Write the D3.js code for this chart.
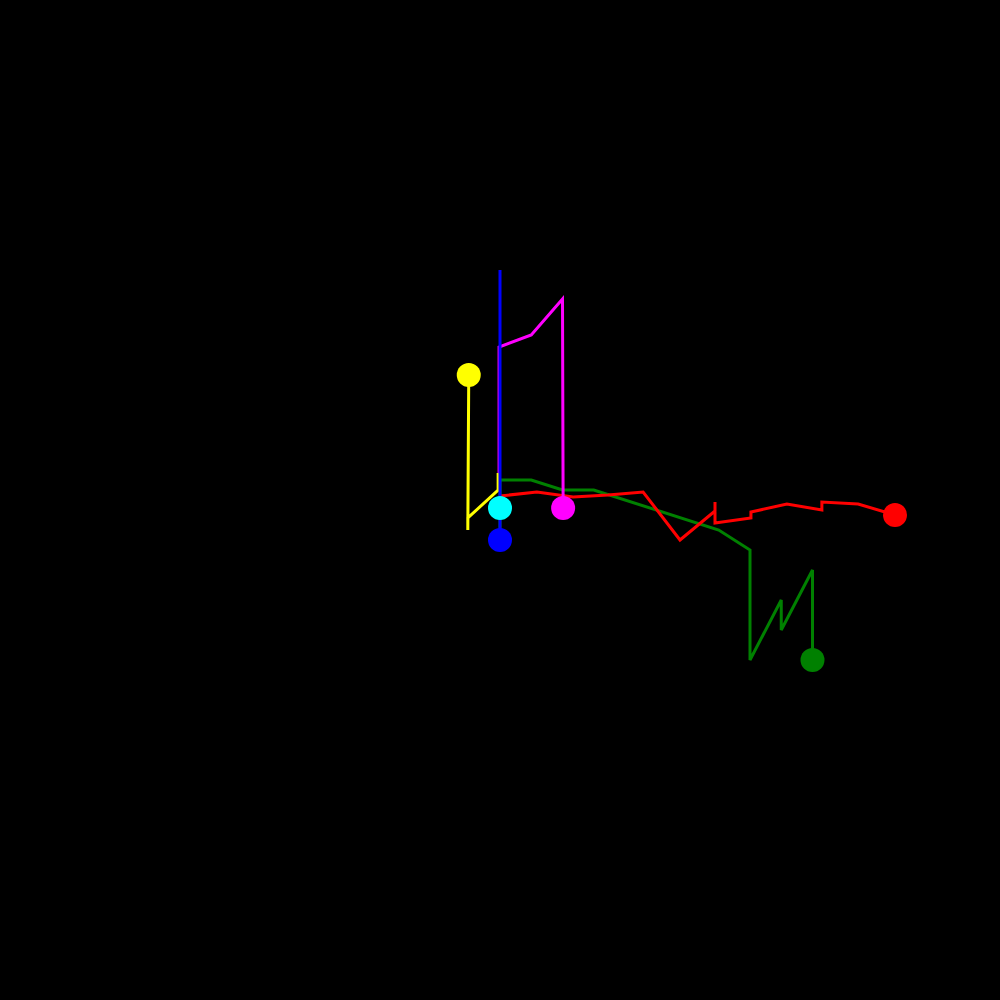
<!DOCTYPE html>
<html>
<head>
<meta charset="utf-8">
<script src="https://cdn.jsdelivr.net/npm/d3@7"></script>
<style>
  html, body { margin: 0; padding: 0; background: #000; }
  svg { display: block; }
</style>
</head>
<body>
<svg id="chart" width="1000" height="1000"></svg>
<script>
// Series names and colours
const seriesNames = ["green", "red", "yellow", "magenta", "blue", "cyan"];
const seriesColors = ["#008000", "#ff0000", "#ffff00", "#ff00ff", "#0000ff", "#00ffff"];

// Each series: [x, y] points in data units, last point carries the dot
const greenPts = [[0, -5.6], [0, 4], [1, 4], [2, 2], [3, 2], [7, -6], [8, -10], [8, -32], [9, -20], [9, -26], [10, -14], [10, -32]];
const redPts = [[0, 0.8], [1.18, 1.6], [2.34, 0.6], [3.46, 1], [4.58, 1.6], [5.76, -8], [6.88, -2.2], [6.88, -0.4], [6.88, -4.6], [8.03, -3.6], [8.03, -2.4], [9.18, -0.8], [10.3, -2], [10.3, -0.4], [11.46, -0.8], [12.64, -3]];
const yellowPts = [[-0.06, 5.4], [-0.06, 2], [-1.03, -3.6], [-1.03, -6], [-1, 25]];
const magentaPts = [[-0.03, 5.4], [-0.03, 30.6], [1, 33], [2, 40.2], [2.02, -1.6]];
const bluePts = [[0, 0.6], [0, 46], [0, -8]];
const cyanPts = [[0, 0.6], [0, -1.6]];

const allSeries = [greenPts, redPts, yellowPts, magentaPts, bluePts, cyanPts];

const W = 1000, H = 1000;
const x = d3.scaleLinear().domain([-16, 16]).range([0, W]);
const y = d3.scaleLinear().domain([-100, 100]).range([H, 0]);

const svg = d3.select("#chart");
svg.append("rect").attr("width", W).attr("height", H).attr("fill", "#000");

const line = d3.line().x(d => x(d[0])).y(d => y(d[1]));

const data = seriesNames.map((n, i) => ({ name: n, color: seriesColors[i], pts: allSeries[i] }));

svg.append("g").selectAll("path")
  .data(data)
  .join("path")
  .attr("d", d => line(d.pts))
  .attr("fill", "none")
  .attr("stroke", d => d.color)
  .attr("stroke-width", 3);

svg.append("g").selectAll("circle")
  .data(data)
  .join("circle")
  .attr("cx", d => x(d.pts[d.pts.length - 1][0]))
  .attr("cy", d => y(d.pts[d.pts.length - 1][1]))
  .attr("r", 12)
  .attr("fill", d => d.color);
</script>
</body>
</html>
